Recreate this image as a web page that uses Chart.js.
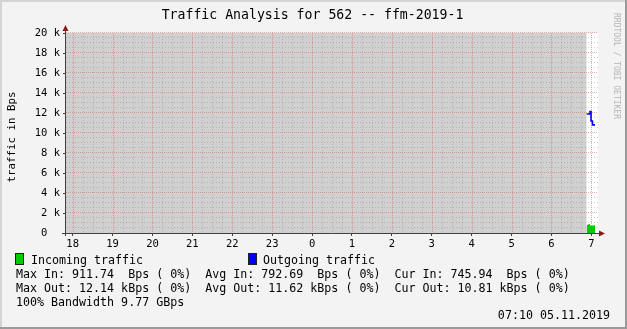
<!DOCTYPE html>
<html>
<head>
<meta charset="utf-8">
<script src="https://cdn.jsdelivr.net/npm/chart.js@4"></script>
<style>
  html, body { margin: 0; padding: 0; background: #f3f3f3; }
  #wrap { position: relative; width: 627px; height: 329px; }
  canvas { display: block; }
</style>
</head>
<body>
<div id="wrap"><canvas id="trafficChart" width="627" height="329"></canvas></div>
<script>
// zeit in minuten ab 18:00 (Achse: 17:50 .. 07:10)
const hourTicks = [0, 60, 120, 180, 240, 300, 360, 420, 480, 540, 600, 660, 720, 780];
const yTicks = [0, 2000, 4000, 6000, 8000, 10000, 12000, 14000, 16000, 18000, 20000];

// unbekannte Daten (grau hinterlegt)
const unknownTimes = [-10, 773];
const unknownValues = [20000, 20000];

// Incoming (Bps)
const inTimes = [773, 775.5, 778, 785.5];
const inValues = [790, 911.74, 745.94, 745.94];

// Outgoing (Bps)
const outTimes = [773, 778, 779.5, 781.7, 785.5];
const outValues = [11900, 12140, 11200, 10810, 10810];

const statsLines = [
    'Max In: 911.74  Bps ( 0%)  Avg In: 792.69  Bps ( 0%)  Cur In: 745.94  Bps ( 0%)',
    'Max Out: 12.14 kBps ( 0%)  Avg Out: 11.62 kBps ( 0%)  Cur Out: 10.81 kBps ( 0%)',
    '100% Bandwidth 9.77 GBps'
];

const MONO = '"DejaVu Sans Mono", monospace';
const majorGrid = 'rgba(225, 75, 75, 0.45)';
const minorGrid = 'rgba(110, 110, 110, 0.3)';

function pts(xs, ys) {
    return xs.map((x, i) => ({ x: x, y: ys[i] }));
}

// Gitter (ueber der grauen Flaeche, unter den Daten)
function drawGrid(chart) {
    const ctx = chart.ctx;
    const a = chart.chartArea;
    const xs = chart.scales.x;
    const ys = chart.scales.y;
    const vline = (v, color, dash) => {
        const px = Math.round(xs.getPixelForValue(v)) + 0.5;
        ctx.strokeStyle = color; ctx.setLineDash(dash);
        ctx.beginPath(); ctx.moveTo(px, a.top); ctx.lineTo(px, a.bottom); ctx.stroke();
    };
    const hline = (v, color, dash) => {
        const py = Math.round(ys.getPixelForValue(v)) - 0.5;
        ctx.strokeStyle = color; ctx.setLineDash(dash);
        ctx.beginPath(); ctx.moveTo(a.left, py); ctx.lineTo(a.right, py); ctx.stroke();
    };
    ctx.save();
    ctx.lineWidth = 1;
    for (let m = 15; m <= 785; m += 15) if (m % 60) vline(m, minorGrid, [1, 2]);
    for (let v = 500; v < 20000; v += 500) if (v % 2000) hline(v, minorGrid, [1, 2]);
    hourTicks.forEach(m => vline(m, majorGrid, [1, 1]));
    yTicks.forEach(v => { if (v > 0) hline(v, majorGrid, [1, 1]); });
    ctx.restore();
}

// Hintergrund, Rahmen, Achsen, Pfeile und Texte
const rrdLook = {
    id: 'rrdLook',
    beforeDraw(chart) {
        const ctx = chart.ctx;
        const a = chart.chartArea;
        ctx.save();
        ctx.fillStyle = '#f3f3f3';
        ctx.fillRect(0, 0, chart.width, chart.height);
        // 3D Rahmen
        ctx.fillStyle = '#d4d4d4';
        ctx.fillRect(0, 0, chart.width, 2);
        ctx.fillRect(0, 0, 2, chart.height);
        ctx.fillStyle = '#9a9a9a';
        ctx.fillRect(chart.width - 2, 0, 2, chart.height);
        ctx.fillRect(0, chart.height - 2, chart.width, 2);
        ctx.fillStyle = '#ffffff';
        ctx.fillRect(a.left, a.top, a.right - a.left, a.bottom - a.top);
        ctx.restore();
    },
    afterDatasetDraw(chart, args) {
        if (args.index === 2) drawGrid(chart);
    },
    afterDraw(chart) {
        const ctx = chart.ctx;
        const a = chart.chartArea;
        ctx.save();
        // Achsen
        ctx.strokeStyle = '#404040';
        ctx.lineWidth = 1;
        ctx.beginPath();
        ctx.moveTo(a.left - 0.5, a.top - 4);
        ctx.lineTo(a.left - 0.5, a.bottom + 3);
        ctx.moveTo(a.left - 4, a.bottom + 0.5);
        ctx.lineTo(a.right + 3, a.bottom + 0.5);
        ctx.stroke();
        // Pfeile
        ctx.fillStyle = '#8b1a1a';
        ctx.beginPath();
        ctx.moveTo(a.left - 3.5, a.top - 2);
        ctx.lineTo(a.left + 2.5, a.top - 2);
        ctx.lineTo(a.left - 0.5, a.top - 8);
        ctx.closePath();
        ctx.fill();
        ctx.beginPath();
        ctx.moveTo(a.right + 1, a.bottom - 2.5);
        ctx.lineTo(a.right + 1, a.bottom + 3.5);
        ctx.lineTo(a.right + 7, a.bottom + 0.5);
        ctx.closePath();
        ctx.fill();

        // Titel
        ctx.fillStyle = '#000000';
        ctx.font = '13.2px ' + MONO;
        ctx.textAlign = 'center';
        ctx.textBaseline = 'alphabetic';
        ctx.fillText('Traffic Analysis for 562 -- ffm-2019-1', 312.5, 18.5);

        // Y-Titel
        ctx.save();
        ctx.translate(14.5, 137);
        ctx.rotate(-Math.PI / 2);
        ctx.font = '10.8px ' + MONO;
        ctx.fillText('traffic in Bps', 0, 0);
        ctx.restore();

        // Wasserzeichen
        ctx.save();
        ctx.translate(614, 13);
        ctx.rotate(Math.PI / 2);
        ctx.font = '8px ' + MONO;
        ctx.fillStyle = '#b4b4b4';
        ctx.textAlign = 'left';
        ctx.fillText('RRDTOOL / TOBI OETIKER', 0, 0);
        ctx.restore();

        // Legende
        ctx.font = '11.65px ' + MONO;
        ctx.textAlign = 'left';
        const boxes = [
            { x: 16, color: '#00cc00', text: 'Incoming traffic', tx: 31 },
            { x: 249, color: '#0000ff', text: 'Outgoing traffic', tx: 263 }
        ];
        boxes.forEach(b => {
            ctx.fillStyle = b.color;
            ctx.fillRect(b.x, 254, 7, 10);
            ctx.strokeStyle = '#202020';
            ctx.lineWidth = 1;
            ctx.strokeRect(b.x - 0.5, 253.5, 8, 11);
            ctx.fillStyle = '#000000';
            ctx.fillText(b.text, b.tx, 263.5);
        });
        statsLines.forEach((line, i) => {
            ctx.fillText(line, 16, 277.5 + i * 14);
        });
        ctx.textAlign = 'right';
        ctx.fillText('07:10 05.11.2019', 610, 318.5);
        ctx.restore();
    }
};

const ctx = document.getElementById('trafficChart').getContext('2d');
const trafficChart = new Chart(ctx, {
    type: 'line',
    data: {
        datasets: [
            {
                label: 'Outgoing traffic',
                data: pts(outTimes, outValues),
                borderColor: '#0000ff',
                borderWidth: 1.6,
                stepped: true,
                pointRadius: 0,
                fill: false,
                order: 1
            },
            {
                label: 'Incoming traffic',
                data: pts(inTimes, inValues),
                borderColor: '#00cc00',
                backgroundColor: '#00cc00',
                borderWidth: 0,
                stepped: true,
                pointRadius: 0,
                fill: 'origin',
                order: 2
            },
            {
                label: 'unknown',
                data: pts(unknownTimes, unknownValues),
                borderWidth: 0,
                borderColor: '#d0d0d0',
                backgroundColor: '#d0d0d0',
                pointRadius: 0,
                fill: 'origin',
                order: 3
            }
        ]
    },
    options: {
        responsive: false,
        animation: false,
        events: [],
        layout: { padding: { left: 0, top: 33, right: 29, bottom: 0 } },
        plugins: {
            legend: { display: false },
            title: { display: false },
            tooltip: { enabled: false }
        },
        scales: {
            x: {
                type: 'linear', position: 'bottom', min: -10, max: 790,
                afterBuildTicks: s => { s.ticks = hourTicks.map(v => ({ value: v })); },
                afterFit: s => { s.height = 96; },
                ticks: {
                    font: { family: MONO, size: 10.5 },
                    color: '#000000',
                    padding: 2,
                    maxRotation: 0,
                    autoSkip: false,
                    callback: v => String((18 + v / 60) % 24)
                },
                grid: { drawOnChartArea: false, tickColor: '#404040', tickLength: 3 },
                border: { display: false }
            },
            y: {
                type: 'linear', position: 'left', min: 0, max: 20000,
                afterBuildTicks: s => { s.ticks = yTicks.map(v => ({ value: v })); },
                afterFit: s => { s.width = 66; },
                ticks: {
                    font: { family: MONO, size: 10.5 },
                    color: '#000000',
                    padding: 3,
                    autoSkip: false,
                    callback: v => v === 0 ? '0  ' : (v / 1000) + ' k'
                },
                grid: { drawOnChartArea: false, tickColor: '#404040', tickLength: 3 },
                border: { display: false }
            }
        }
    },
    plugins: [rrdLook]
});
</script>
</body>
</html>
